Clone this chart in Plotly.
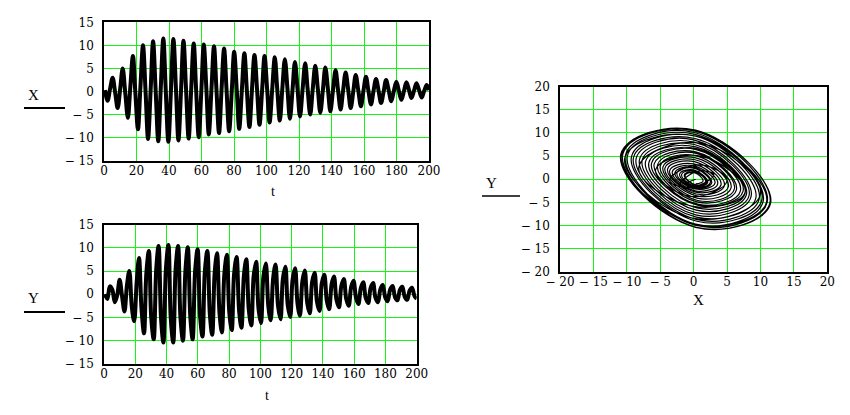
import plotly.graph_objects as go

# time samples (quarter-period spacing)
t_vals = [0.6,
 2.2, 3.7, 5.3, 6.9, 8.4, 10.0, 11.5, 13.1, 14.7, 16.2, 17.8, 19.3, 20.9, 22.4, 24.0, 25.6,
 27.1, 28.7, 30.2, 31.8, 33.4, 34.9, 36.5, 38.0, 39.6, 41.2, 42.7, 44.3, 45.8, 47.4, 48.9, 50.5,
 52.1, 53.6, 55.2, 56.7, 58.3, 59.9, 61.4, 63.0, 64.5, 66.1, 67.7, 69.2, 70.8, 72.3, 73.9, 75.4,
 77.0, 78.6, 80.1, 81.7, 83.2, 84.8, 86.4, 87.9, 89.5, 91.0, 92.6, 94.2, 95.7, 97.3, 98.8, 100.4,
 101.9, 103.5, 105.1, 106.6, 108.2, 109.7, 111.3, 112.9, 114.4, 116.0, 117.5, 119.1, 120.6, 122.2, 123.8, 125.3,
 126.9, 128.4, 130.0, 131.6, 133.1, 134.7, 136.2, 137.8, 139.3, 140.9, 142.5, 144.0, 145.6, 147.1, 148.7, 150.3,
 151.8, 153.4, 154.9, 156.5, 158.1, 159.6, 161.2, 162.7, 164.3, 165.8, 167.4, 169.0, 170.5, 172.1, 173.6, 175.2,
 176.8, 178.3, 179.9, 181.4, 183.0, 184.6, 186.1, 187.7, 189.2, 190.8, 192.3, 193.9, 195.5, 197.0, 198.6, 200.0]

# X(t) values
x_vals = [0.3,
 -2.0, 0.5, 3.0, -0.3,
 -3.6, 0.7, 5.0, -0.4,
 -5.7, 1.0, 7.7, -0.3,
 -8.2, 0.9, 10.0, -0.2,
 -10.3, 0.3, 10.9, 0.1,
 -10.8, 0.4, 11.5, 0.3,
 -10.9, 0.3, 11.4, 0.4,
 -10.6, 0.2, 11.0, 0.4,
 -10.2, 0.1, 10.4, 0.3,
 -9.9, 0.2, 10.2, 0.5,
 -9.3, 0.3, 9.8, 0.4,
 -9.0, 0.2, 9.3, 0.4,
 -8.6, 0.0, 8.6, 0.3,
 -8.1, 0.1, 8.3, 0.3,
 -7.7, 0.1, 7.9, 0.4,
 -7.2, 0.3, 7.7, 0.5,
 -6.7, 0.4, 7.4, 0.6,
 -6.3, 0.4, 7.0, 0.6,
 -5.9, 0.3, 6.4, 0.5,
 -5.4, 0.4, 6.1, 0.6,
 -5.0, 0.3, 5.6, 0.5,
 -4.6, 0.3, 5.2, 0.5,
 -4.3, 0.2, 4.6, 0.4,
 -3.9, 0.1, 4.1, 0.3,
 -3.6, 0.0, 3.6, 0.2,
 -3.2, 0.0, 3.2, 0.2,
 -2.8, 0.0, 2.7, 0.1,
 -2.5, 0.0, 2.5, 0.2,
 -2.1, 0.0, 2.1, 0.2,
 -1.8, 0.1, 2.0, 0.3,
 -1.4, 0.2, 1.8, 0.3,
 -1.3, 0.1, 1.4, 0.3]

# Y(t) values
y_vals = [0.0,
 -1.0, 1.7, 1.0, -1.7,
 -0.3, 3.1, -0.3, -3.7,
 2.0, 5.0, -2.8, -5.8,
 2.6, 7.8, -3.2, -8.4,
 4.6, 9.3, -5.0, -9.7,
 5.3, 10.4, -5.3, -10.4,
 5.4, 10.6, -5.2, -10.4,
 5.4, 10.4, -5.0, -10.0,
 5.2, 10.1, -4.8, -9.7,
 5.1, 9.7, -4.5, -9.1,
 4.9, 9.3, -4.3, -8.7,
 4.7, 8.8, -4.1, -8.2,
 4.5, 8.5, -3.7, -7.7,
 4.3, 8.0, -3.5, -7.2,
 4.1, 7.5, -3.3, -6.7,
 3.8, 7.0, -3.0, -6.2,
 3.6, 6.6, -2.6, -5.6,
 3.5, 6.4, -2.5, -5.4,
 3.3, 5.9, -2.3, -4.9,
 3.1, 5.6, -2.1, -4.6,
 2.9, 5.1, -1.9, -4.1,
 2.6, 4.6, -1.6, -3.6,
 2.4, 4.2, -1.4, -3.2,
 2.2, 3.8, -1.2, -2.8,
 1.8, 3.3, -1.0, -2.5,
 1.6, 2.9, -0.8, -2.1,
 1.4, 2.6, -0.8, -1.9,
 1.3, 2.4, -0.7, -1.7,
 1.1, 2.0, -0.7, -1.5,
 1.0, 1.8, -0.6, -1.3,
 0.9, 1.6, -0.5, -1.2,
 0.8, 1.4, -0.4, -1.0]

t_ticks = [0, 20, 40, 60, 80, 100, 120, 140, 160, 180, 200]
v_ticks = [-15, -10, -5, 0, 5, 10, 15]
v_text = ["\u2212 15", "\u2212 10", "\u2212 5", "0", "5", "10", "15"]
p_ticks = [-20, -15, -10, -5, 0, 5, 10, 15, 20]
p_text = ["\u2212 20", "\u2212 15", "\u2212 10", "\u2212 5", "0", "5", "10", "15", "20"]

W, H = 850, 415
def fx(x):
    return x / W
def fy(y):
    return 1 - y / H

FONT = "Liberation Serif"
TICKFONT = "DejaVu Serif"
GRID = "rgb(20,245,20)"

fig = go.Figure()
ts_line = dict(color="black", width=4, shape="spline")
fig.add_trace(go.Scatter(x=t_vals, y=x_vals, mode="lines", line=ts_line, xaxis="x", yaxis="y"))
fig.add_trace(go.Scatter(x=t_vals, y=y_vals, mode="lines", line=ts_line, xaxis="x2", yaxis="y2"))
fig.add_trace(go.Scatter(x=x_vals, y=y_vals, mode="lines",
                         line=dict(color="black", width=1.2, shape="spline", smoothing=1.3),
                         xaxis="x3", yaxis="y3"))

def ax(domain, rng, tv, tt, anchor, standoff):
    return dict(domain=domain, range=rng, tickvals=tv, ticktext=tt, anchor=anchor,
                showline=True, linecolor="black", linewidth=1.6, mirror=True,
                showgrid=True, gridcolor=GRID, gridwidth=1, zeroline=False,
                ticks="", ticklabelstandoff=standoff, automargin=False,
                tickfont=dict(family=TICKFONT, size=12, color="black"), fixedrange=True)

fig.update_layout(
    width=W, height=H, margin=dict(l=0, r=0, t=0, b=0, autoexpand=False),
    paper_bgcolor="white", plot_bgcolor="white", showlegend=False,
    xaxis=ax([fx(104), fx(429)], [0, 200], t_ticks, [str(v) for v in t_ticks], "y", -2),
    yaxis=ax([fy(160.7), fy(22.3)], [-15, 15], v_ticks, v_text, "x", 6),
    xaxis2=ax([fx(104), fx(416.7)], [0, 200], t_ticks, [str(v) for v in t_ticks], "y2", -2),
    yaxis2=ax([fy(364), fy(224.5)], [-15, 15], v_ticks, v_text, "x2", 6),
    xaxis3=ax([fx(560), fx(827.3)], [-20, 20], p_ticks, p_text, "y3", -2),
    yaxis3=ax([fy(271.7), fy(86.7)], [-20, 20], p_ticks, p_text, "x3", 6),
)

def label(text, x, y, size=15):
    fig.add_annotation(text=text, x=fx(x), y=fy(y), xref="paper", yref="paper",
                       showarrow=False, xanchor="center", yanchor="middle",
                       font=dict(family=FONT, size=size, color="black"))

label("X", 33, 95)
label("Y", 33, 298)
label("Y", 491, 183)
label("t", 273, 191, 14)
label("t", 267, 395, 14)
label("X", 698, 300)

def hline(x0, x1, y, w):
    fig.add_shape(type="line", xref="paper", yref="paper",
                  x0=fx(x0), x1=fx(x1), y0=fy(y), y1=fy(y),
                  line=dict(color="black", width=w))

hline(24, 65, 108, 2.2)
hline(24, 65, 312, 2.2)
hline(482, 520, 196, 1.6)

fig.write_html("out.html")
